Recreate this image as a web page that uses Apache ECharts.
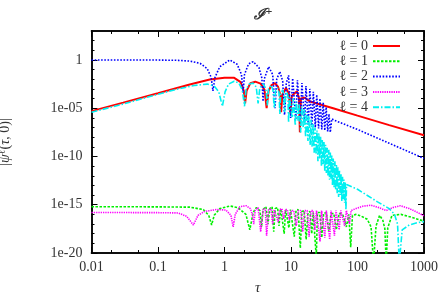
<!DOCTYPE html>
<html><head><meta charset="utf-8">
<script src="https://cdn.jsdelivr.net/npm/echarts@6/dist/echarts.min.js"></script>
<style>html,body{margin:0;padding:0;background:#fff}#c{width:442px;height:296px}</style>
</head><body><div id="c"></div>
<script>
// tick values / labels
const xTickValues = [0.01, 0.1, 1, 10, 100, 1000];
const xTickLabels = ['0.01', '0.1', '1', '10', '100', '1000'];
const xMinorTicks = [0.02, 0.05, 0.2, 0.5, 2, 5, 20, 50, 200, 500];
const yTickValues = [1e-20, 1e-15, 1e-10, 1e-5, 1];
const yTickLabels = ['1e-20', '1e-15', '1e-10', '1e-05', '1'];
const yMinorTicks = [1e-19,1e-18,1e-17,1e-16,1e-14,1e-13,1e-12,1e-11,1e-9,1e-8,1e-7,1e-6,1e-4,1e-3,1e-2,1e-1,1e1,1e2];
const seriesNames = ['ℓ = 0', 'ℓ = 1', 'ℓ = 2', 'ℓ = 3', 'ℓ = 4'];

// [tau, log10 |psi|]
const psiL0 = [[0.01,-5.3],[0.03,-4.42],[0.1,-3.45],[0.3,-2.55],[0.6,-2.02],[1.0,-1.85],[1.4,-1.85],[1.75,-2.3],[1.95,-3.2],[2.04,-4.5],[2.15,-3.2],[2.45,-2.4],[2.9,-2.25],[3.5,-2.45],[4.0,-3.1],[4.3,-5.0],[4.6,-3.2],[5.1,-2.6],[5.75,-2.4],[6.4,-2.8],[6.9,-3.6],[7.1,-5.4],[7.4,-3.6],[8.4,-2.9],[9.3,-3.5],[9.8,-5.6],[10.3,-3.7],[12.3,-3.25],[13.2,-4.0],[13.6,-7.5],[14.1,-4.0],[16,-3.9],[19.3,-4.3],[43,-5.0],[100,-5.77],[300,-6.75],[1000,-7.8]];

const psiL1 = [[0.01,-15.2],[0.1,-15.22],[0.3,-15.25],[0.48,-15.5],[0.58,-16.1],[0.64,-17.1],[0.7,-16.1],[0.85,-15.4],[1.21,-15.13],[1.6,-15.3],[2.1,-16.0],[2.4,-17.6],[2.7,-15.8],[3.0,-15.3],[3.4,-15.6],[3.6,-17.3],[3.8,-15.5],[4.2,-15.2],[4.5,-17.0],[4.8,-15.4],[5.2,-15.2],[5.5,-17.8],[5.8,-15.4],[6.3,-15.3],[6.6,-17.2],[7.0,-15.4],[7.5,-15.3],[7.9,-18.0],[8.3,-15.5],[8.8,-15.3],[9.3,-17.4],[9.8,-15.5],[10.5,-15.4],[11.2,-18.3],[11.9,-15.6],[12.8,-15.5],[13.8,-19.5],[14.6,-15.7],[15.8,-15.6],[16.9,-18.6],[18,-15.8],[19.3,-15.7],[20.5,-18.0],[21.6,-15.8],[23,-15.7],[24,-20.5],[25,-15.8],[27,-15.8],[29,-18.4],[31,-15.9],[34,-15.8],[37,-17.8],[40,-15.9],[44,-15.9],[48,-17.6],[53,-15.9],[60,-16.0],[68,-17.3],[74,-16.0],[79,-19.4],[84,-16.1],[95,-16.0],[115,-16.2],[140,-16.5],[160,-17.3],[174,-21],[190,-17.2],[215,-16.1],[240,-16.6],[258,-17.5],[270,-21],[285,-17.4],[330,-16.1],[450,-16.0],[650,-16.3],[1000,-16.7]];

const psiL2 = [[0.01,0],[0.1,-0.01],[0.2,-0.04],[0.3,-0.12],[0.43,-0.35],[0.55,-0.9],[0.63,-1.8],[0.67,-3.2],[0.72,-1.8],[0.85,-0.7],[1.2,0],[1.55,-0.45],[1.8,-1.5],[1.9,-3.4],[2.0,-1.5],[2.3,-0.4],[2.7,-0.17],[3.3,-0.8],[3.65,-1.9],[3.8,-4.3],[3.95,-2.0],[4.6,-0.7],[5.3,-1.5],[5.75,-5.0],[6.1,-2.0],[6.8,-1.2],[7.5,-2.2],[8.0,-5.7],[8.5,-2.4],[9.2,-1.6],[9.9,-6.0],[10.6,-1.9],[11.8,-6.2],[12.5,-2.1],[13.8,-6.4],[14.6,-2.4],[16,-6.5],[16.8,-2.7],[18.2,-6.7],[19.2,-3.0],[20.6,-6.8],[21.7,-3.3],[23.2,-7.0],[24.4,-3.6],[26,-7.1],[27.3,-4.0],[29,-7.2],[30.5,-4.4],[32.2,-7.3],[33.8,-4.9],[35.6,-7.4],[37.3,-5.6],[39,-7.5],[41,-6.1],[45,-6.25],[100,-7.2],[300,-8.63],[1000,-10.2]];

const psiL3 = [[0.01,-15.8],[0.1,-15.82],[0.2,-15.85],[0.27,-16.2],[0.34,-17.1],[0.4,-16.1],[0.5,-15.7],[0.75,-15.5],[1.05,-15.55],[1.25,-16.1],[1.35,-17.3],[1.45,-16.0],[1.7,-15.2],[2.1,-15.1],[2.45,-15.4],[2.62,-16.0],[2.75,-17.0],[2.9,-15.6],[3.2,-15.3],[3.5,-17.8],[3.8,-15.5],[4.1,-15.4],[4.3,-18.2],[4.6,-15.5],[5.0,-15.4],[5.3,-17.0],[5.6,-15.5],[6.0,-15.4],[6.4,-16.8],[6.8,-15.5],[7.3,-15.4],[7.7,-16.5],[8.2,-15.5],[8.8,-15.5],[9.5,-16.6],[10.1,-15.6],[11,-15.6],[12,-17.2],[12.9,-15.6],[14,-15.6],[15,-17.8],[16,-15.6],[17.5,-15.6],[18.7,-18.3],[20,-15.6],[21.5,-15.6],[22.8,-17.6],[24.2,-15.6],[25.8,-15.6],[27.3,-18.8],[28.8,-15.6],[30.5,-15.6],[32.3,-18.4],[34,-15.6],[36,-15.6],[38.2,-18.6],[40,-15.6],[42.5,-15.6],[45,-18.2],[47.5,-15.6],[50,-15.7],[53,-17.6],[56,-15.6],[60,-15.6],[64,-17.2],[68,-15.6],[72,-15.7],[76,-17.0],[80,-15.6],[95,-15.4],[120,-15.15],[160,-15.05],[210,-15.3],[270,-15.6],[340,-15.3],[440,-15.1],[600,-15.4],[800,-15.8],[1000,-16.15]];

const psiL4 = [[0.01,-5.42],[0.03,-4.57],[0.1,-3.55],[0.2,-3.0],[0.35,-2.65],[0.55,-2.5],[0.7,-2.7],[0.82,-3.3],[0.93,-4.8],[1.02,-3.3],[1.15,-2.5],[1.4,-2.2],[1.65,-2.4],[1.85,-3.1],[2.0,-4.8],[2.1,-3.1],[2.35,-2.5],[2.7,-2.4],[3.0,-2.8],[3.2,-4.5],[3.4,-2.9],[3.8,-2.45],[4.2,-3.0],[4.4,-4.7],[4.6,-3.0],[5.0,-2.6],[5.35,-3.1],[5.6,-5.0],[5.85,-3.2],[6.3,-2.9],[6.6,-3.4],[6.8,-5.6],[7.0,-3.5],[7.5,-3.1],[7.8,-3.6],[8.0,-5.4],[8.3,-3.6],[8.7,-3.3],[9.0,-3.8],[9.2,-6.5],[9.5,-3.9],[10,-3.7],[10.4,-6.0],[10.8,-4.0],[11.3,-4.0],[11.6,-6.8],[12,-4.3],[12.5,-4.3],[12.8,-6.3],[13.2,-4.5],[13.6,-4.6],[14,-7.5],[14.5,-4.8],[15,-4.9],[15.3,-7.0],[15.8,-5.1],[16.2,-5.2],[16.6,-8.0],[17.1,-5.4],[17.6,-5.6],[18,-8.4],[18.5,-5.8],[19,-6.0],[19.4,-8.8],[20,-6.2],[20.5,-6.4],[20.8,-9.0],[21.5,-6.6],[22,-6.8],[22.3,-9.6],[23,-7.0],[23.5,-7.1],[23.8,-9.8],[24.6,-7.3],[25,-7.4],[25.4,-10.5],[26.2,-7.6],[26.6,-7.7],[27,-10.2],[27.8,-7.9],[28.3,-8.0],[28.7,-11.0],[29.5,-8.2],[30,-8.3],[30.4,-10.8],[31.3,-8.5],[31.8,-8.6],[32.2,-11.5],[33.1,-8.8],[33.6,-8.9],[34,-11.7],[35,-9.1],[35.5,-9.2],[36,-12.0],[37,-9.3],[37.5,-9.4],[38,-12.4],[39,-9.6],[39.5,-9.7],[40,-12.3],[41,-9.9],[41.5,-10.0],[42,-13.0],[43.2,-10.2],[43.8,-10.3],[44.5,-13.2],[45.7,-10.5],[46.3,-10.6],[47,-13.5],[48.2,-10.8],[48.8,-10.9],[49.5,-13.8],[50.7,-11.1],[51.3,-11.2],[52,-14.2],[53.5,-11.4],[54.2,-11.5],[55,-14.0],[56.5,-11.8],[57.2,-11.9],[58,-14.6],[59.5,-12.1],[60.2,-12.2],[61,-14.4],[62.5,-12.4],[63.2,-12.5],[64,-14.8],[65.5,-12.7],[66.2,-12.8],[67,-15.5],[68.5,-12.9],[70,-12.8],[100,-13.4],[200,-14.7],[300,-15.4],[360,-16.0],[400,-17.0],[425,-21],[470,-17.6],[600,-17.1],[800,-16.85],[1000,-16.75]];

const FONT = 'Liberation Serif';
const TXT = '#333';
const toData = pts => pts.map(p => [p[0], Math.pow(10, p[1])]);

const xLab = v => { const i = xTickValues.findIndex(t => Math.abs(Math.log10(t) - Math.log10(v)) < 1e-6); return i >= 0 ? xTickLabels[i] : ''; };
const yLab = v => { const i = yTickValues.findIndex(t => Math.abs(Math.log10(t) - Math.log10(v)) < 1e-6); return i >= 0 ? yTickLabels[i] : ''; };

const frame = {show: true, lineStyle: {color: '#000', width: 1.5}};
function xAx(pos, ticks, len, labels, extra) {
  return Object.assign({
    type: 'log', logBase: 10, min: 0.01, max: 1000, position: pos,
    axisLine: frame,
    axisTick: {show: true, inside: true, length: len, customValues: ticks, lineStyle: {color: '#000', width: 1}},
    minorTick: {show: false}, splitLine: {show: false},
    axisLabel: labels ? {show: true, customValues: xTickValues, formatter: xLab, fontFamily: FONT, fontSize: 14, color: TXT, margin: 7} : {show: false}
  }, extra || {});
}
function yAx(pos, ticks, len, labels, extra) {
  return Object.assign({
    type: 'log', logBase: 10, min: 1e-20, max: 1e3, position: pos,
    axisLine: frame,
    axisTick: {show: true, inside: true, length: len, customValues: ticks, lineStyle: {color: '#000', width: 1}},
    minorTick: {show: false}, splitLine: {show: false},
    axisLabel: labels ? {show: true, customValues: yTickValues, formatter: yLab, fontFamily: FONT, fontSize: 14, color: TXT, margin: 9} : {show: false}
  }, extra || {});
}

const colors = ['#ff0000', '#00f000', '#0000ff', '#ff00ff', '#00f0f0'];
const styles = [
  {width: 2, type: 'solid'},
  {width: 1.6, type: [2.5, 1.5]},
  {width: 1.6, type: [1.6, 1.6]},
  {width: 1.6, type: [1.3, 1]},
  {width: 1.6, type: [6, 2, 1.5, 2]}
];
const allPts = [psiL0, psiL1, psiL2, psiL3, psiL4];

const chart = echarts.init(document.getElementById('c'), null, {renderer: 'canvas'});
chart.setOption({
  animation: false,
  backgroundColor: '#fff',
  title: {
    text: '{a|ℐ}{b|+}', left: 258, top: 1, textAlign: 'center',
    textStyle: {rich: {a: {fontFamily: FONT, fontStyle: 'italic', fontSize: 15, color: TXT}, b: {fontFamily: FONT, fontSize: 12, color: TXT, verticalAlign: 'top', padding: [0, 0, 6, 1]}}}
  },
  grid: {left: 91.5, right: 18, top: 31, bottom: 43, containLabel: false, outerBoundsMode: 'none'},
  legend: {
    data: seriesNames, orient: 'vertical', right: 36, top: 34, align: 'right',
    itemWidth: 27, itemHeight: 10, itemGap: 1.3,
    itemStyle: {opacity: 0},
    textStyle: {fontFamily: FONT, fontSize: 14, color: TXT, lineHeight: 14}
  },
  xAxis: [
    xAx('bottom', xTickValues, 6, true, {name: 'τ', nameLocation: 'middle', nameGap: 28, nameTextStyle: {fontFamily: FONT, fontStyle: 'italic', fontSize: 15, color: TXT}}),
    xAx('bottom', xMinorTicks, 3, false),
    xAx('top', xTickValues, 6, false),
    xAx('top', xMinorTicks, 3, false)
  ],
  yAxis: [
    yAx('left', yTickValues, 6, true, {
      name: '|{i|ψ}{s|ℓ}({i|τ}, 0)|', nameLocation: 'middle', nameGap: 78, nameRotate: 90,
      nameTextStyle: {fontFamily: FONT, fontSize: 14, color: TXT, rich: {i: {fontFamily: FONT, fontStyle: 'italic', fontSize: 14, color: TXT}, s: {fontFamily: FONT, fontSize: 10, color: TXT, verticalAlign: 'top', padding: [0, 0, 6, 0]}}}
    }),
    yAx('left', yMinorTicks, 3, false),
    yAx('right', yTickValues, 6, false),
    yAx('right', yMinorTicks, 3, false)
  ],
  series: allPts.map((pts, i) => ({
    name: seriesNames[i], type: 'line', xAxisIndex: 0, yAxisIndex: 0,
    data: toData(pts), showSymbol: false, symbol: 'none', clip: true,
    color: colors[i], lineStyle: Object.assign({color: colors[i]}, styles[i]),
    z: 2 + i
  }))
});
</script></body></html>
